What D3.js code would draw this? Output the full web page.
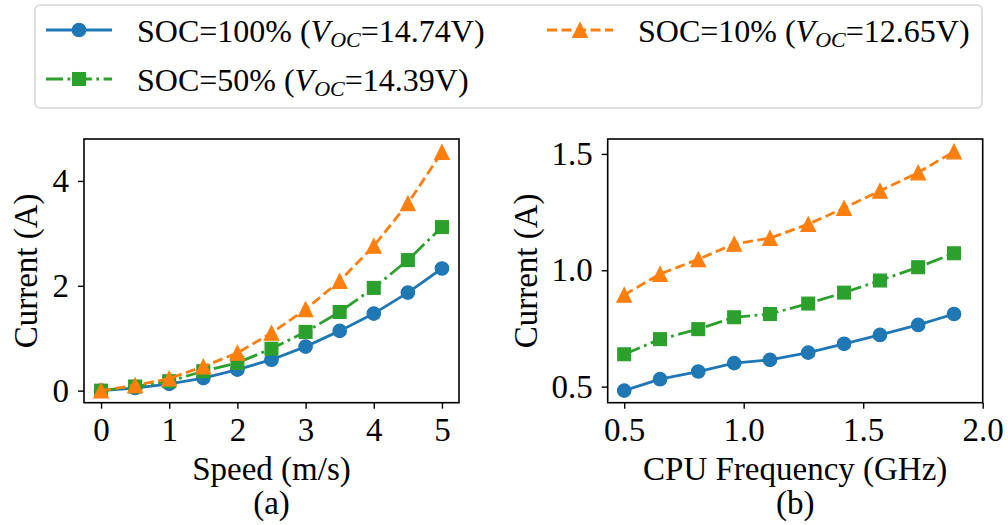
<!DOCTYPE html>
<html>
<head>
<meta charset="utf-8">
<script src="https://cdn.jsdelivr.net/npm/d3@7"></script>
<style>
  body { margin: 0; background: #fff; }
  text { font-family: "Liberation Serif", "Times New Roman", serif; fill: #000; }
</style>
</head>
<body>
<div id="chart"></div>
<script>
// panel (a): current vs speed
const speeds = [0, 0.5, 1, 1.5, 2, 2.5, 3, 3.5, 4, 4.5, 5];
const speedSoc100 = [0, 0.05, 0.13, 0.24, 0.40, 0.59, 0.84, 1.14, 1.47, 1.87, 2.33];
const speedSoc50 = [0, 0.08, 0.18, 0.37, 0.53, 0.80, 1.12, 1.50, 1.96, 2.49, 3.12];
const speedSoc10 = [0, 0.10, 0.23, 0.46, 0.72, 1.10, 1.55, 2.09, 2.76, 3.57, 4.55];

// panel (b): current vs cpu frequency
const freqs = [0.5, 0.65, 0.81, 0.96, 1.11, 1.27, 1.42, 1.57, 1.73, 1.88];
const freqSoc100 = [0.483, 0.532, 0.565, 0.601, 0.615, 0.646, 0.684, 0.722, 0.765, 0.812];
const freqSoc50 = [0.639, 0.704, 0.747, 0.798, 0.812, 0.857, 0.904, 0.956, 1.013, 1.073];
const freqSoc10 = [0.894, 0.984, 1.047, 1.113, 1.138, 1.198, 1.267, 1.341, 1.420, 1.510];

const speedTicks = [0, 1, 2, 3, 4, 5];
const speedYTicks = [0, 2, 4];
const freqTicks = [0.5, 1.0, 1.5, 2.0];
const freqYTicks = [0.5, 1.0, 1.5];

const seriesNames = ["SOC=100%", "SOC=50%", "SOC=10%"];
const seriesVoc = ["14.74V", "14.39V", "12.65V"];

const W = 1008, H = 525;
const FONT = 33;
const LW = 2.8;
const MS = 13.5;

const styles = [
    { color: "#1f77b4", dash: null, marker: "circle" },
    { color: "#2ca02c", dash: "17,4.5,2.8,4.5", marker: "square" },
    { color: "#ff7f0e", dash: "10,4.5", marker: "triangle" }
];

const svg = d3.select("#chart").append("svg")
    .attr("width", W)
    .attr("height", H)
    .style("display", "block");

svg.append("rect").attr("width", W).attr("height", H).attr("fill", "#fff");

function drawMarker(g, kind, x, y, color) {
    const h = MS / 2;
    if (kind === "circle") {
        g.append("circle").attr("cx", x).attr("cy", y).attr("r", h)
            .attr("fill", color).attr("stroke", color).attr("stroke-width", 1.2);
    } else if (kind === "square") {
        const s = h * 0.95;
        g.append("rect").attr("x", x - s).attr("y", y - s).attr("width", 2 * s).attr("height", 2 * s)
            .attr("fill", color).attr("stroke", color).attr("stroke-width", 1.2);
    } else {
        const t = h * 1.08;
        g.append("path")
            .attr("d", `M${x},${y - t}L${x - t},${y + t}L${x + t},${y + t}Z`)
            .attr("fill", color).attr("stroke", color).attr("stroke-width", 1.2)
            .attr("stroke-linejoin", "miter");
    }
}

function panel(opts) {
    const x = d3.scaleLinear().domain(opts.xDomain).range([opts.left, opts.right]);
    const y = d3.scaleLinear().domain(opts.yDomain).range([opts.bottom, opts.top]);
    const g = svg.append("g");

    const line = d3.line()
        .x(function(d) { return x(d[0]); })
        .y(function(d) { return y(d[1]); });

    opts.series.forEach(function(vals, i) {
        const st = styles[i];
        const pts = opts.xs.map(function(v, j) { return [v, vals[j]]; });
        g.append("path")
            .attr("d", line(pts))
            .attr("fill", "none")
            .attr("stroke", st.color)
            .attr("stroke-width", LW)
            .attr("stroke-dasharray", st.dash)
            .attr("stroke-linejoin", "round");
        const mg = g.append("g");
        pts.forEach(function(p) { drawMarker(mg, st.marker, x(p[0]), y(p[1]), st.color); });
    });

    const xAxis = g.append("g")
        .attr("transform", `translate(0,${opts.bottom})`)
        .call(d3.axisBottom(x).tickValues(opts.xTicks).tickSize(6).tickPadding(9).tickFormat(opts.xFmt));
    const yAxis = g.append("g")
        .attr("transform", `translate(${opts.left},0)`)
        .call(d3.axisLeft(y).tickValues(opts.yTicks).tickSize(6).tickPadding(9).tickFormat(opts.yFmt));

    [xAxis, yAxis].forEach(function(a) {
        a.select(".domain").remove();
        a.selectAll(".tick line").attr("stroke", "#000").attr("stroke-width", 1.4);
        a.selectAll(".tick text")
            .style("font-family", "'Liberation Serif', serif")
            .style("font-size", FONT + "px")
            .attr("fill", "#000");
    });

    g.append("rect")
        .attr("x", opts.left).attr("y", opts.top)
        .attr("width", opts.right - opts.left).attr("height", opts.bottom - opts.top)
        .attr("fill", "none").attr("stroke", "#000").attr("stroke-width", 1.6);

    const cx = (opts.left + opts.right) / 2;
    g.append("text").attr("x", cx).attr("y", 480)
        .attr("text-anchor", "middle").style("font-size", FONT + "px")
        .text(opts.xLabel);
    g.append("text").attr("x", cx).attr("y", 514)
        .attr("text-anchor", "middle").style("font-size", FONT + "px")
        .text(opts.tag);
    g.append("text")
        .attr("transform", `translate(${opts.yLabelX},${(opts.top + opts.bottom) / 2}) rotate(-90)`)
        .attr("text-anchor", "middle").style("font-size", FONT + "px")
        .text("Current (A)");
}

panel({
    left: 84, right: 459, top: 139, bottom: 402.7,
    xDomain: [-0.25, 5.25], yDomain: [-0.23, 4.8],
    xs: speeds, series: [speedSoc100, speedSoc50, speedSoc10],
    xTicks: speedTicks, yTicks: speedYTicks,
    xFmt: d3.format("d"), yFmt: d3.format("d"),
    xLabel: "Speed (m/s)", tag: "(a)", yLabelX: 37
});

panel({
    left: 607.7, right: 982.7, top: 139, bottom: 402.7,
    xDomain: [0.431, 2.0], yDomain: [0.431, 1.564],
    xs: freqs, series: [freqSoc100, freqSoc50, freqSoc10],
    xTicks: freqTicks, yTicks: freqYTicks,
    xFmt: d3.format(".1f"), yFmt: d3.format(".1f"),
    xLabel: "CPU Frequency (GHz)", tag: "(b)", yLabelX: 537
});

// legend
const leg = svg.append("g");
leg.append("rect")
    .attr("x", 35).attr("y", 5).attr("width", 947).attr("height", 103)
    .attr("rx", 5).attr("fill", "#fff")
    .attr("stroke", "#d6d6d6").attr("stroke-width", 1.6);

const legPos = [
    { x: 46, y: 30 },
    { x: 46, y: 79 },
    { x: 547, y: 30 }
];

seriesNames.forEach(function(name, i) {
    const st = styles[i];
    const p = legPos[i];
    leg.append("line")
        .attr("x1", p.x).attr("x2", p.x + 66)
        .attr("y1", p.y).attr("y2", p.y)
        .attr("stroke", st.color).attr("stroke-width", LW)
        .attr("stroke-dasharray", st.dash);
    drawMarker(leg, st.marker, p.x + 33, p.y, st.color);

    const t = leg.append("text")
        .attr("x", p.x + 91).attr("y", p.y + 12)
        .style("font-size", "32px");
    t.append("tspan").text(name + " (");
    t.append("tspan").style("font-style", "italic").text("V");
    t.append("tspan").style("font-style", "italic").style("font-size", "22px")
        .attr("dy", 5).text("OC");
    t.append("tspan").attr("dy", -5).text("=" + seriesVoc[i] + ")");
});
</script>
</body>
</html>
